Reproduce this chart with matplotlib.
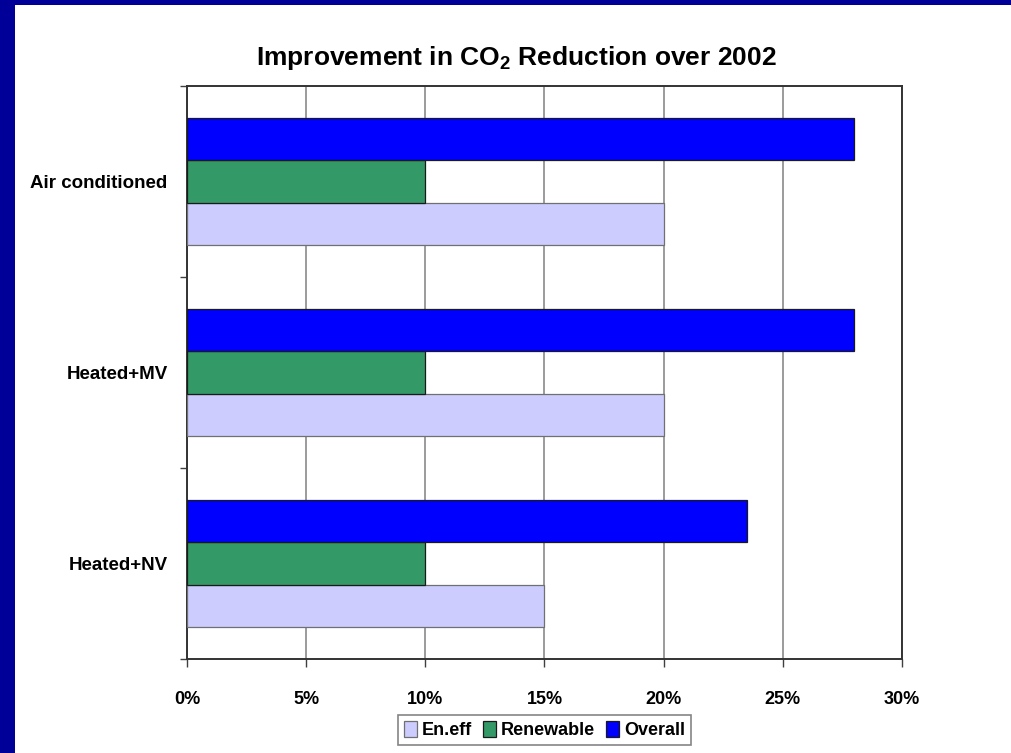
import matplotlib

matplotlib.use("Agg")
import matplotlib.pyplot as plt
import numpy as np
from matplotlib.patches import Rectangle
from matplotlib.ticker import FuncFormatter, MultipleLocator

# Data (percent)
categories = ["Air conditioned", "Heated+MV", "Heated+NV"]
series_names = ["En.eff", "Renewable", "Overall"]
en_eff = [20, 20, 15]
renewable = [10, 10, 10]
overall = [28, 28, 23.5]
colors = ["#CCCCFF", "#339966", "#0000FF"]

plt.rcParams["font.family"] = ["Liberation Sans", "DejaVu Sans"]
plt.rcParams["font.weight"] = "bold"
plt.rcParams["mathtext.fontset"] = "custom"
plt.rcParams["mathtext.bf"] = "Liberation Sans:bold"
plt.rcParams["mathtext.rm"] = "Liberation Sans:bold"

fig = plt.figure(figsize=(10.12, 7.53), dpi=100, facecolor="#000099")
# white slide area inside the navy frame
fig.patches.append(
    Rectangle((15 / 1012, 0), 1, 1 - 5 / 753, transform=fig.transFigure,
              facecolor="white", edgecolor="none", zorder=-10)
)

ax = fig.add_axes([187 / 1012, 1 - 659 / 753, 715 / 1012, 573 / 753])
ax.set_facecolor("white")

y = np.arange(len(categories))
h = 1 / 4.5  # Excel gap width 150%
values = [en_eff, renewable, overall]
offsets = [h, 0, -h]
edges = ["#707070", "#1a1a1a", "#1a1a1a"]
for name, vals, off, col, ec in zip(series_names, values, offsets, colors, edges):
    ax.barh(y + off, vals, height=h, color=col, edgecolor=ec, linewidth=0.9,
            label=name, zorder=3)

ax.set_xlim(0, 30)
ax.set_ylim(2.5, -0.5)
ax.xaxis.set_major_locator(MultipleLocator(5))
ax.xaxis.set_major_formatter(FuncFormatter(lambda v, _: f"{v:.0f}%"))
ax.grid(axis="x", color="#8a8a8a", linewidth=1.2, zorder=1)

# category boundaries get the tick marks, labels sit in between
ax.set_yticks([-0.5, 0.5, 1.5, 2.5])
ax.set_yticklabels([])
ax.set_yticks(y, minor=True)
ax.set_yticklabels(categories, minor=True, fontsize=13.5, fontweight="bold")
ax.tick_params(axis="y", which="minor", length=0, pad=14)
ax.tick_params(axis="y", which="major", length=5, width=1, color="#404040")
ax.tick_params(axis="x", length=6, width=1, color="#404040", pad=17,
               labelsize=13)
for lab in ax.get_xticklabels():
    lab.set_fontweight("bold")

for sp in ax.spines.values():
    sp.set_color("#333333")
    sp.set_linewidth(1.4)

fig.text(0.5104, 1 - 58 / 753, "Improvement in CO$_\\mathbf{2}$ Reduction over 2002",
         ha="center", va="center", fontsize=19, fontweight="bold")

leg = fig.legend(loc="center", bbox_to_anchor=(544.5 / 1012, 1 - 730 / 753),
                 ncol=3, fontsize=13, frameon=True, fancybox=False,
                 handlelength=0.7, handleheight=1.0, handletextpad=0.3,
                 columnspacing=0.6, borderpad=0.35, borderaxespad=0)
leg.get_frame().set_edgecolor("#666666")
leg.get_frame().set_linewidth(1.2)
for t in leg.get_texts():
    t.set_fontweight("bold")

fig.savefig("out.png", dpi=100, facecolor=fig.get_facecolor())
